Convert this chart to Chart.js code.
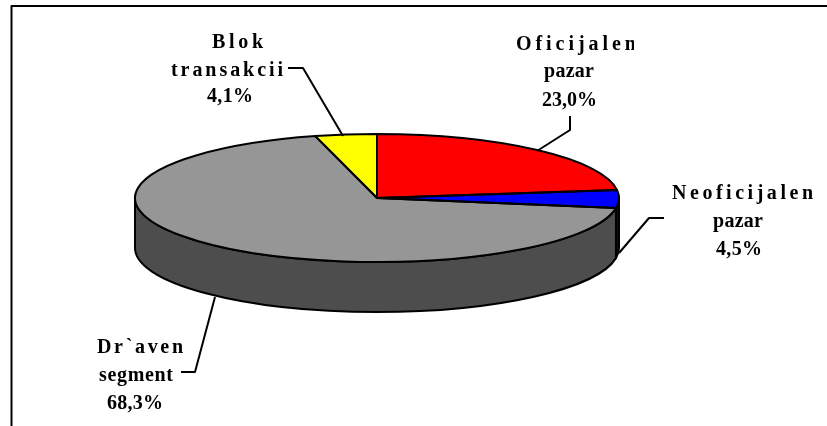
<!DOCTYPE html>
<html>
<head>
<meta charset="utf-8">
<style>html,body{margin:0;padding:0;background:#fff}canvas{display:block}</style>
<script src="https://cdn.jsdelivr.net/npm/chart.js@4"></script>
</head>
<body>
<canvas id="c" width="827" height="426"></canvas>
<script>
const categories = ["Oficijalen pazar", "Neoficijalen pazar", "Dr`aven segment", "Blok transakcii"];
const shares = [23.0, 4.5, 68.3, 4.1];
const shareLabels = ["23,0%", "4,5%", "68,3%", "4,1%"];
const topColours = ["#ff0000", "#0000ff", "#969696", "#ffff00"];
const sideColours = ["#800000", "#000080", "#4d4d4d", "#808000"];

const flatten = 64 / 242, depth = 50, lineColour = "#000";
const fontSpec = 'bold 20px "Liberation Serif"';

/* [left, baseline, target width] per text line, [x,y] per leader vertex */
const labelLayout = [
  { lines: [[516,50,120],[544,77,50],[542,106,55]], clipRight: 634, leader: [[570,116],[570,130],[537,151]] },
  { lines: [[672,199,141],[713,227,50],[716,255,46]], leader: [[664,218],[649,218],[619,253]] },
  { lines: [[97,353,86],[99,381,74],[107,409,56]], leader: [[181,372],[195,372],[215,297]] },
  { lines: [[212,48,51],[171,76,112],[207,102,46]], leader: [[288,68],[303,68],[343,136]] }
];

const pie3d = {
  id: "pie3d",
  beforeDatasetsDraw(chart) {
    const ctx = chart.ctx, arcs = chart.getDatasetMeta(0).data;
    ctx.save();
    ctx.lineWidth = 2; ctx.strokeStyle = lineColour; ctx.lineJoin = "round";
    arcs.forEach((arc, i) => {
      const p = arc.getProps(["x","y","startAngle","endAngle","outerRadius"], true);
      const a0 = Math.max(p.startAngle, 0), a1 = Math.min(p.endAngle, Math.PI);
      if (a1 <= a0) return;
      const ry = p.outerRadius * flatten;
      ctx.beginPath();
      ctx.ellipse(p.x, p.y, p.outerRadius, ry, 0, a0, a1);
      ctx.ellipse(p.x, p.y + depth, p.outerRadius, ry, 0, a1, a0, true);
      ctx.closePath();
      ctx.fillStyle = sideColours[i];
      ctx.fill(); ctx.stroke();
    });
    ctx.restore();
    const a = arcs[0];
    ctx.save();
    ctx.translate(a.x, a.y);
    ctx.scale(1, flatten);
    ctx.translate(-a.x, -a.y);
  },
  afterDatasetsDraw(chart) {
    const ctx = chart.ctx, arcs = chart.getDatasetMeta(0).data;
    ctx.restore();
    ctx.save();
    ctx.lineWidth = 2; ctx.strokeStyle = lineColour; ctx.lineJoin = "round";
    arcs.forEach(arc => {
      const p = arc.getProps(["x","y","startAngle","endAngle","outerRadius"], true);
      ctx.beginPath();
      ctx.moveTo(p.x, p.y);
      ctx.ellipse(p.x, p.y, p.outerRadius, p.outerRadius * flatten, 0, p.startAngle, p.endAngle);
      ctx.closePath();
      ctx.stroke();
    });
    /* frame */
    ctx.beginPath();
    ctx.moveTo(11.5, 426); ctx.lineTo(11.5, 6); ctx.lineTo(827, 6);
    ctx.stroke();
    /* leaders */
    labelLayout.forEach(l => {
      ctx.beginPath();
      l.leader.forEach((pt, j) => j ? ctx.lineTo(pt[0], pt[1]) : ctx.moveTo(pt[0], pt[1]));
      ctx.stroke();
    });
    /* labels */
    ctx.fillStyle = "#000"; ctx.font = fontSpec; ctx.textAlign = "left"; ctx.textBaseline = "alphabetic";
    categories.forEach((name, i) => {
      const texts = name.split(" ").concat(shareLabels[i]);
      const l = labelLayout[i];
      texts.forEach((t, j) => {
        const [x, y, w] = l.lines[j];
        ctx.save();
        if (l.clipRight && j === 0) { ctx.beginPath(); ctx.rect(0, 0, l.clipRight, 426); ctx.clip(); }
        ctx.letterSpacing = "0px";
        const m = ctx.measureText(t).width;
        ctx.letterSpacing = ((w - m) / Math.max(t.length - 1, 1)).toFixed(2) + "px";
        ctx.fillText(t, x, y);
        ctx.restore();
      });
    });
    ctx.restore();
  }
};

new Chart(document.getElementById("c"), {
  type: "pie",
  data: {
    labels: categories,
    datasets: [{ data: shares, backgroundColor: topColours, borderWidth: 0, clip: false }]
  },
  options: {
    responsive: false,
    animation: false,
    radius: 242,
    layout: { padding: { left: 0, top: 0, right: 73, bottom: 30 } },
    plugins: { legend: { display: false }, tooltip: { enabled: false }, title: { display: false } }
  },
  plugins: [pie3d]
});
</script>
</body>
</html>
